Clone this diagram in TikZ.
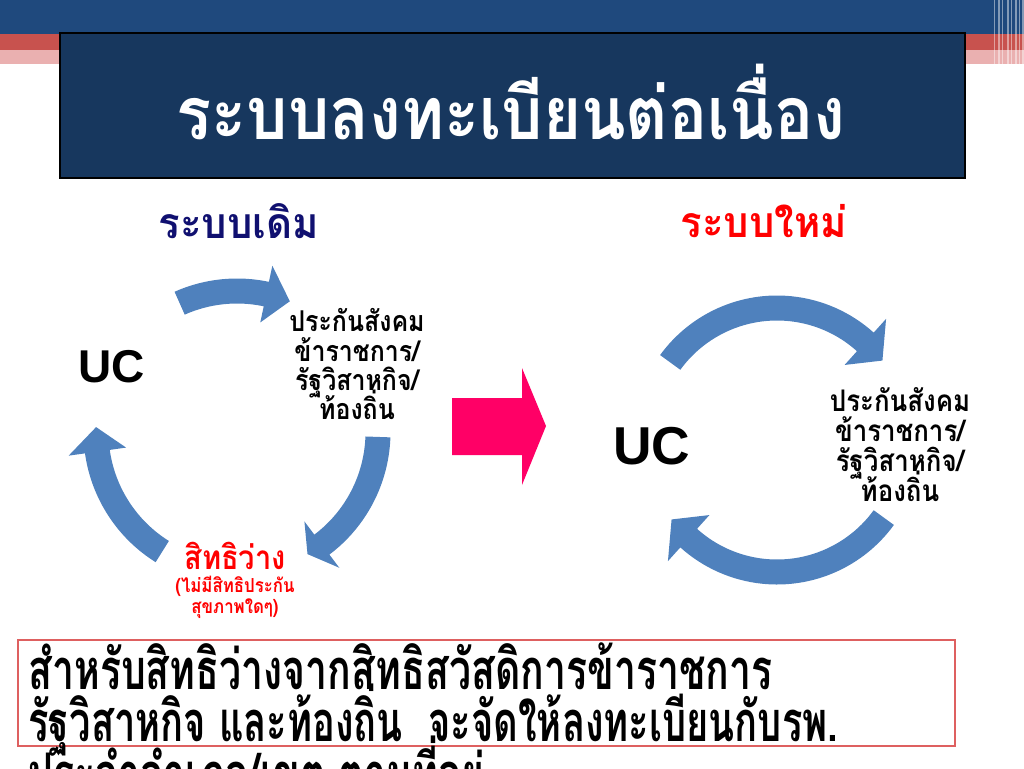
\documentclass[tikz,border=0pt]{standalone}
\usepackage{fontspec}
\usepackage{graphicx}
\setmainfont{Liberation Sans}
\newfontfamily\thai[Script=Thai]{Loma}
\definecolor{topblue}{RGB}{31,73,125}
\definecolor{redband}{RGB}{200,82,78}
\definecolor{pinkband}{RGB}{234,176,176}
\definecolor{titlefill}{RGB}{23,55,94}
\definecolor{arrowblue}{RGB}{79,129,189}
\definecolor{pinkarrow}{RGB}{255,0,102}
\definecolor{navytext}{RGB}{16,16,112}
\definecolor{redtext}{RGB}{255,0,0}
\definecolor{boxred}{RGB}{222,96,96}
\newcommand{\cycarrow}[8]{% cx cy r w atail abase atip hw
  \fill[arrowblue, shift={(#1,#2)}]
    (#5:{#3+#4/2}) arc[start angle=#5, end angle=#6, radius={#3+#4/2}]
    -- (#6:{#3+#8/2}) -- (#7:#3) -- (#6:{#3-#8/2}) -- (#6:{#3-#4/2})
    arc[start angle=#6, end angle=#5, radius={#3-#4/2}] -- cycle;}
\newcommand{\nx}[2]{\scalebox{#1}[1]{#2}}
\newcommand{\nl}[2]{\raisebox{0pt}[0.55em][0.15em]{\scalebox{#1}[1]{#2}}}
\tikzset{
  cyclbl/.style={align=center, inner sep=0pt},
}
\begin{document}
\begin{tikzpicture}[x=0.75pt,y=0.75pt]
\useasboundingbox (0,0) rectangle (1024,-768);
\clip (0,0) rectangle (1024,-768);
% top bands
\fill[topblue] (0,0) rectangle (1024,-34);
\fill[redband] (0,-34) rectangle (1024,-50);
\fill[pinkband] (0,-50) rectangle (1024,-64);
\foreach \x/\w in {994/1,998/1.5,1002/1,1007/2,1011/1,1015/2,1019/1,1022/1.5}
  \fill[white, opacity=0.45] (\x,0) rectangle ++(\w,-68);
% title
\node[draw=black, line width=0.8pt, fill=titlefill, minimum width=905*0.75pt, minimum height=145*0.75pt, inner sep=0pt] (titlebox) at (512.5,-105.5) {};
\node[text=white, font=\thai\bfseries\fontsize{55}{62}\selectfont] (title) at (511,-102) {\nx{0.89}{ระบบลงทะเบียนต่อเนื่อง}};
% headings
\node[text=navytext, font=\thai\bfseries\fontsize{32}{36}\selectfont] (old) at (239,-221) {\nx{0.94}{ระบบเดิม}};
\node[text=redtext, font=\thai\bfseries\fontsize{32}{36}\selectfont] (new) at (764,-221) {\nx{0.94}{ระบบใหม่}};
% left cycle
\cycarrow{237}{-432}{141}{25}{114}{78}{68}{58}
\cycarrow{237}{-432}{141}{25}{-2}{-53}{-60}{58}
\cycarrow{237}{-432}{141}{25}{238}{188}{178}{58}
\node[font=\bfseries\fontsize{34.5}{40}\selectfont] (ucl) at (112,-367) {UC};
\node[cyclbl, font=\thai\bfseries\fontsize{21.5}{22}\selectfont] (insl) at (357,-370) {\nl{0.87}{ประกันสังคม}\\\nl{0.87}{ข้าราชการ/}\\\nl{0.87}{รัฐวิสาหกิจ/}\\\nl{0.87}{ท้องถิ่น}};
\node[cyclbl, text=redtext, font=\thai\bfseries\fontsize{25}{26}\selectfont] (free) at (235,-556) {\nx{0.87}{สิทธิว่าง}};
\node[cyclbl, text=redtext, font=\thai\bfseries\fontsize{14.5}{16}\selectfont] (freesub) at (235,-599) {\nl{0.87}{(ไม่มีสิทธิประกัน}\\\nl{0.87}{สุขภาพใดๆ)}};
% middle arrow
\fill[pinkarrow] (452,-398) -- (522,-398) -- (522,-368) -- (546,-426) -- (522,-485) -- (522,-455) -- (452,-455) -- cycle;
% right cycle
\cycarrow{777}{-440}{132}{25}{144}{48}{37}{62}
\cycarrow{777}{-440}{132}{25}{324}{228}{217}{62}
\node[font=\bfseries\fontsize{40}{46}\selectfont] (ucr) at (652,-446) {UC};
\node[cyclbl, font=\thai\bfseries\fontsize{22.3}{22.5}\selectfont] (insr) at (900,-451) {\nl{0.87}{ประกันสังคม}\\\nl{0.87}{ข้าราชการ/}\\\nl{0.87}{รัฐวิสาหกิจ/}\\\nl{0.87}{ท้องถิ่น}};
% bottom box
\draw[boxred, line width=0.9pt] (18,-640) rectangle (955,-746);
\node[anchor=base west, inner sep=0pt, font=\thai\bfseries\fontsize{42}{48}\selectfont] (l1) at (28,-689) {\nx{0.70}{สำหรับสิทธิว่างจากสิทธิสวัสดิการข้าราชการ}};
\node[anchor=base west, inner sep=0pt, font=\thai\bfseries\fontsize{42}{48}\selectfont] (l2) at (28,-741) {\nx{0.68}{รัฐวิสาหกิจ และท้องถิ่น\ \ จะจัดให้ลงทะเบียนกับรพ.}};
\node[anchor=base west, inner sep=0pt, font=\thai\bfseries\fontsize{42}{48}\selectfont] (l3) at (28,-793) {\nx{0.70}{ประจำอำเภอ/เขต ตามที่อยู่}};
\end{tikzpicture}
\end{document}
